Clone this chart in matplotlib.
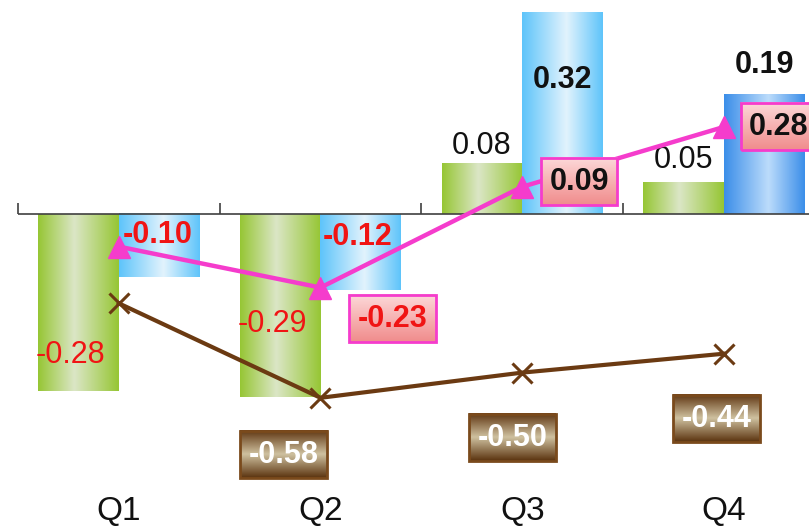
import numpy as np
import matplotlib
matplotlib.use('Agg')
import matplotlib.pyplot as plt
from matplotlib.colors import LinearSegmentedColormap
from matplotlib.transforms import blended_transform_factory

plt.rcParams['font.family'] = ['Liberation Sans', 'DejaVu Sans']

quarters = ['Q1', 'Q2', 'Q3', 'Q4']
green_vals = [-0.28, -0.29, 0.08, 0.05]
blue_vals = [-0.10, -0.12, 0.32, 0.19]
pink_vals = [-0.10, -0.23, 0.09, 0.28]
brown_vals = [-0.28, -0.58, -0.50, -0.44]
pink_labelled = [False, True, True, True]
brown_labelled = [False, True, True, True]

# label offsets in pixels (dx right, dy down) from the mark's end
green_off = [(-8, -36), (-8, -73), (0, -18), (0, -23)]
blue_off = [(-1, -42), (-3, -53), (0, 68), (0, -29)]
pink_off = [None, (72, 31), (57, -5), (55, 0)]
brown_off = [None, (-37, 57), (-10, 65), (-7, 65)]

RED = '#f01414'
PINK = '#f53ccc'
BROWN = '#6b3a12'


def px(off):
    return (off[0] * 0.72, -off[1] * 0.72)


def hgrad(edge, light, pos=0.45):
    return LinearSegmentedColormap.from_list('g', [(0, edge), (pos, light), (1, edge)])


green_cm = hgrad('#96c634', '#dbe6c6')
blue_cm = hgrad('#5ec4fa', '#e2f3fd', 0.55)
blue_dark_cm = hgrad('#3b8ee9', '#bcdcfb', 0.55)
pink_box_cm = LinearSegmentedColormap.from_list('p', ['#fcdada', '#f7b2b2', '#f08c8c'])
brown_box_cm = LinearSegmentedColormap.from_list(
    'b', [(0, '#5e3410'), (0.5, '#cfc1a0'), (1, '#5a320e')])

fig = plt.figure(figsize=(8.09, 5.26), dpi=100)
ax = fig.add_axes([0, 0, 1, 1])
ax2 = ax.twinx()

XLIM = (-0.589, 3.422)
YLIM = (-0.495, 0.3397)
YLIM2 = (-0.987, 0.683)

x = np.arange(len(quarters))
w = 0.40
g_bars = ax.bar(x - w / 2, green_vals, w, color='#96c634', zorder=1)
b_bars = ax.bar(x + w / 2, blue_vals, w, color='#5ec4fa', zorder=1)

hrow = np.linspace(0, 1, 256).reshape(1, -1)
for i, p in enumerate(list(g_bars) + list(b_bars)):
    cm = green_cm if i < 4 else (blue_dark_cm if i == 7 else blue_cm)
    x0, y0 = p.get_x(), p.get_y()
    ax.imshow(hrow, cmap=cm, aspect='auto', interpolation='bicubic',
              extent=(x0, x0 + p.get_width(), y0, y0 + p.get_height()), zorder=1.5)

# category axis line with separator ticks
ax.hlines(0, -0.5, XLIM[1], color='#404040', lw=1.2, zorder=2)
ax.vlines(np.arange(-0.5, len(quarters), 1.0), 0, 0.0175, color='#404040', lw=1.2, zorder=2)

tr = blended_transform_factory(ax.transData, ax.transAxes)
for i, q in enumerate(quarters):
    ax.text(i, 0.028, q, transform=tr, ha='center', va='center', fontsize=24, color='#111111')

# bar value labels
for i, v in enumerate(green_vals):
    ax.annotate(f'{v:.2f}', (x[i] - w / 2, v), xytext=px(green_off[i]), textcoords='offset points',
                ha='center', va='center', fontsize=22, color=RED if v < 0 else '#111111', zorder=5)
for i, v in enumerate(blue_vals):
    ax.annotate(f'{v:.2f}', (x[i] + w / 2, v), xytext=px(blue_off[i]), textcoords='offset points',
                ha='center', va='center', fontsize=22, fontweight='bold',
                color=RED if v < 0 else '#111111', zorder=5)

# lines on the secondary scale
ax2.plot(x, brown_vals, color=BROWN, lw=3, marker='x', ms=15, mew=2.2, zorder=2)
ax2.plot(x, pink_vals, color=PINK, lw=3.2, marker='^', ms=16, mec=PINK, zorder=3)

boxes = []
for i, v in enumerate(pink_vals):
    if not pink_labelled[i]:
        continue
    t = ax2.annotate(f'{v:.2f}', (x[i], v), xytext=px(pink_off[i]), textcoords='offset points',
                     ha='center', va='center', fontsize=22, fontweight='bold',
                     color=RED if v < 0 else '#111111', zorder=6,
                     bbox=dict(boxstyle='square,pad=0.28', fc='none', ec=PINK, lw=2))
    boxes.append((t, pink_box_cm))
for i, v in enumerate(brown_vals):
    if not brown_labelled[i]:
        continue
    t = ax2.annotate(f'{v:.2f}', (x[i], v), xytext=px(brown_off[i]), textcoords='offset points',
                     ha='center', va='center', fontsize=22, fontweight='bold',
                     color='white', zorder=6,
                     bbox=dict(boxstyle='square,pad=0.28', fc='none', ec='#7a4a1c', lw=2))
    boxes.append((t, brown_box_cm))

for a, yl in ((ax, YLIM), (ax2, YLIM2)):
    a.set_xlim(*XLIM)
    a.set_ylim(*yl)
    a.set_axis_off()

# vertical gradient fill behind each boxed label
fig.canvas.draw()
vcol = np.linspace(0, 1, 256).reshape(-1, 1)
inv = ax2.transData.inverted()
for t, cm in boxes:
    bb = t.get_bbox_patch().get_window_extent()
    (x0, y0), (x1, y1) = inv.transform([[bb.x0, bb.y0], [bb.x1, bb.y1]])
    ax2.imshow(vcol, cmap=cm, aspect='auto', interpolation='bicubic',
               extent=(x0, x1, y0, y1), zorder=5)

ax2.set_xlim(*XLIM)
ax2.set_ylim(*YLIM2)

fig.savefig('out.png', dpi=100)
